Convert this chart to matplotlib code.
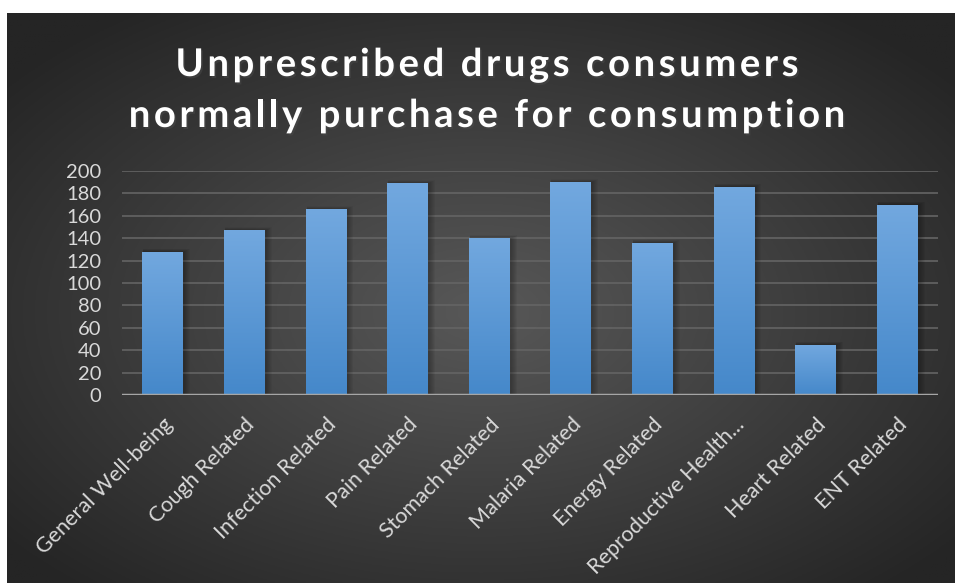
import matplotlib.pyplot as plt
import numpy as np
from matplotlib.patches import Rectangle
from matplotlib.font_manager import FontProperties
from matplotlib.textpath import TextToPath
import matplotlib.patheffects as pe

categories = [
    "General Well-being", "Cough Related", "Infection Related", "Pain Related",
    "Stomach Related", "Malaria Related", "Energy Related", "Reproductive Health...",
    "Heart Related", "ENT Related",
]
counts = [128, 147, 166, 189, 140, 190, 136, 186, 45, 170]
y_ticks = list(range(0, 201, 20))
title_lines = ["Unprescribed drugs consumers", "normally purchase for consumption"]

W, H = 955, 583
DPI = 100
fig = plt.figure(figsize=(W / DPI, H / DPI), dpi=DPI, facecolor="white")

# dark radial background panel
x0, y0 = 7, 13
bg_ax = fig.add_axes([x0 / W, 0, 1 - x0 / W, 1 - y0 / H])
bg_ax.set_axis_off()
gx, gy = np.meshgrid(np.linspace(-1, 1, 400), np.linspace(-1, 1, 250))
r = np.sqrt(gx ** 2 + (gy + 0.05) ** 2)
r = np.clip(r / 1.3, 0, 1)
inner = np.array([0x58, 0x58, 0x58]) / 255
outer = np.array([0x25, 0x25, 0x25]) / 255
img = inner[None, None, :] * (1 - r[..., None]) + outer[None, None, :] * r[..., None]
bg_ax.imshow(img, extent=[0, 1, 0, 1], aspect="auto", origin="lower")
bg_ax.set_xlim(0, 1)
bg_ax.set_ylim(0, 1)


def spaced_text(line, cx, baseline, size, spacing_px):
    """draw a line of text with extra letter spacing (pixel coords from top-left)."""
    prop = FontProperties(family="Lato", weight="bold", size=size)
    t2p = TextToPath()
    px = DPI / 72.0

    def width(s):
        return t2p.get_text_width_height_descent(s, prop, ismath=False)[0] * px

    ref_w = width("l")
    offsets = [width(line[:i] + "l") - ref_w if i else 0.0 for i in range(len(line))]
    total = width(line) + spacing_px * (len(line) - 1)
    start = cx - total / 2
    for i, ch in enumerate(line):
        if ch == " ":
            continue
        xp = start + offsets[i] + spacing_px * i
        fig.text(xp / W, 1 - baseline / H, ch, ha="left", va="baseline", color="white",
                 fontproperties=prop,
                 path_effects=[pe.withSimplePatchShadow(offset=(1.2, -1.5), alpha=0.45)])


spaced_text(title_lines[0], 487, 76, 27.5, 3.6)
spaced_text(title_lines[1], 487, 127, 27.5, 3.6)

# plot area
left, right, top, bottom = 122, 938, 171, 395
ax = fig.add_axes([left / W, 1 - bottom / H, (right - left) / W, (bottom - top) / H])
ax.set_facecolor("none")
x = np.arange(len(categories))
bars = ax.bar(x, counts, width=0.5, color="#5b9bd5", zorder=3)
ax.set_xlim(-0.5, len(categories) - 0.5)
ax.set_ylim(0, 200)

dx_px = (len(categories)) / (right - left)
dy_px = 200 / (bottom - top)
grad = np.linspace(0, 1, 256)[:, None]
top_c = np.array([0x72, 0xa8, 0xdf]) / 255
bot_c = np.array([0x45, 0x88, 0xca]) / 255
grad_img = top_c[None, None, :] * grad[..., None] + bot_c[None, None, :] * (1 - grad[..., None])
for b in bars:
    bx, bw, bh = b.get_x(), b.get_width(), b.get_height()
    # soft drop shadow, mostly to the right
    for k in range(1, 7):
        ax.add_patch(Rectangle((bx + dx_px * 1.0, 0), bw + dx_px * k, bh + dy_px * (k * 0.5),
                               facecolor="black", alpha=0.045, edgecolor="none", zorder=2))
    im = ax.imshow(grad_img, extent=[bx, bx + bw, 0, bh], aspect="auto",
                   origin="lower", zorder=4)
    im.set_clip_path(b)

for yv in y_ticks[1:]:
    ax.axhline(yv, color="#646464", linewidth=1.2, zorder=1)
ax.axhline(0, color="#a6a6a6", linewidth=2.5, zorder=5)

for s in ax.spines.values():
    s.set_visible(False)
ax.set_yticks(y_ticks)
ax.set_yticklabels([str(v) for v in y_ticks], color="#d9d9d9", fontsize=14.5, family="Lato")
ax.tick_params(axis="y", length=0, pad=15)
ax.set_xticks(x)
ax.set_xticklabels(categories, rotation=45, ha="right", va="top", rotation_mode="anchor",
                   color="#d9d9d9", fontsize=15.5, family="Lato")
ax.tick_params(axis="x", length=0, pad=14)

fig.savefig("out.png", dpi=DPI)
